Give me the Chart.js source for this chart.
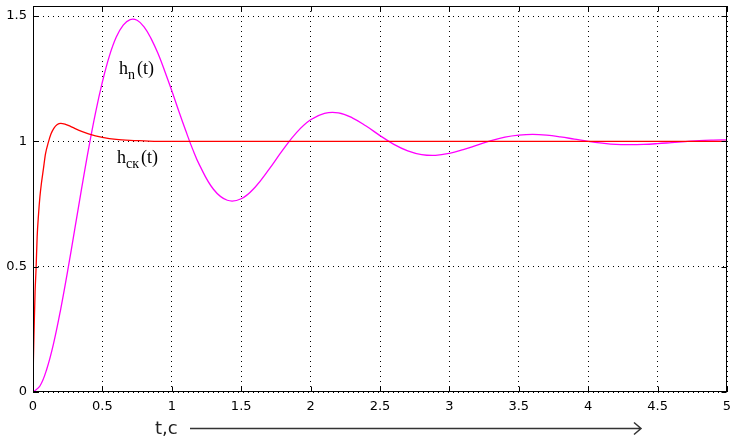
<!DOCTYPE html>
<html lang="ru">
<head>
<meta charset="UTF-8">
<title>h(t)</title>
<style>
  body {
    margin: 0;
    padding: 0;
    background: #fff;
  }
  .wrap {
    width: 739px;
    height: 443px;
  }
</style>
<script src="https://cdn.jsdelivr.net/npm/chart.js"></script>
</head>
<body>

<div class="wrap">
  <canvas id="chart-h" width="739" height="443"></canvas>
</div>

<script>
// step response of the plant, h_n(t)
const tPlant = [0, 0.05, 0.1, 0.15, 0.2, 0.25, 0.3, 0.35, 0.4, 0.45, 0.5, 0.55, 0.6, 0.65, 0.7, 0.75,
  0.8, 0.85, 0.9, 0.95, 1.0, 1.05, 1.1, 1.15, 1.2, 1.3, 1.4, 1.5, 1.6, 1.7, 1.8, 1.9, 2.0, 2.1, 2.2,
  2.3, 2.4, 2.5, 2.6, 2.7, 2.8, 2.9, 3.0, 3.1, 3.2, 3.3, 3.4, 3.5, 3.6, 3.7, 3.8, 3.9, 4.0, 4.1, 4.2,
  4.3, 4.4, 4.5, 4.6, 4.7, 4.8, 4.9, 5.0];
const hPlant = [0, 0.024, 0.093, 0.198, 0.332, 0.484, 0.647, 0.811, 0.969, 1.113, 1.237, 1.340, 1.416,
  1.464, 1.486, 1.483, 1.457, 1.411, 1.351, 1.279, 1.202, 1.121, 1.043, 0.969, 0.905, 0.809, 0.765,
  0.771, 0.817, 0.888, 0.966, 1.036, 1.086, 1.112, 1.114, 1.094, 1.061, 1.023, 0.988, 0.962, 0.947,
  0.944, 0.952, 0.967, 0.985, 1.003, 1.017, 1.025, 1.028, 1.025, 1.018, 1.009, 1.000, 0.993, 0.988,
  0.987, 0.988, 0.991, 0.995, 0.999, 1.003, 1.005, 1.006];

// corrected system, h_ck(t)
const tCorr = [0, 0.003, 0.008, 0.015, 0.022, 0.03, 0.04, 0.05, 0.06, 0.075, 0.09, 0.11, 0.13, 0.15,
  0.175, 0.2, 0.23, 0.27, 0.3, 0.35, 0.4, 0.45, 0.5, 0.6, 0.7, 0.8, 0.9, 1.0, 5.0];
const hCorr = [0, 0.13, 0.25, 0.40, 0.49, 0.62, 0.71, 0.78, 0.83, 0.89, 0.95, 0.995, 1.03, 1.052,
  1.067, 1.072, 1.069, 1.06, 1.052, 1.04, 1.03, 1.022, 1.016, 1.008, 1.004, 1.002, 1.0, 1.0, 1.0];

const xTicks = [0, 0.5, 1, 1.5, 2, 2.5, 3, 3.5, 4, 4.5, 5];
const yTicks = [0, 0.5, 1, 1.5];

const toPoints = (xs, ys) => xs.map((x, i) => ({x: x, y: ys[i]}));

// frame, inward ticks, curve labels and the t,c arrow
const decor = {
  id: 'decor',
  afterDraw(chart) {
    const ctx = chart.ctx;
    const a = chart.chartArea;
    const xs = chart.scales.x, ys = chart.scales.y;
    const L = Math.round(a.left) + 0.5, R = Math.round(a.right) - 0.5;
    const T = Math.round(a.top) + 0.5, B = Math.round(a.bottom) - 0.5;
    ctx.save();
    ctx.strokeStyle = '#000';
    ctx.lineWidth = 1;
    ctx.strokeRect(L, T, R - L, B - T);

    ctx.beginPath();
    xTicks.forEach(v => {
      const px = Math.round(xs.getPixelForValue(v)) + 0.5;
      ctx.moveTo(px, B); ctx.lineTo(px, B - 5);
      ctx.moveTo(px, T); ctx.lineTo(px, T + 5);
    });
    yTicks.forEach(v => {
      const py = Math.round(ys.getPixelForValue(v)) + 0.5;
      ctx.moveTo(L, py); ctx.lineTo(L + 5, py);
      ctx.moveTo(R, py); ctx.lineTo(R - 5, py);
    });
    ctx.stroke();

    // curve labels
    const label = (t, v, sub) => {
      let x = xs.getPixelForValue(t);
      const y = ys.getPixelForValue(v);
      ctx.fillStyle = '#000';
      ctx.textBaseline = 'alphabetic';
      ctx.textAlign = 'left';
      ctx.font = '18px "Liberation Serif", serif';
      ctx.fillText('h', x, y);
      x += ctx.measureText('h').width;
      ctx.font = '14px "Liberation Serif", serif';
      ctx.fillText(sub, x, y + 5);
      x += ctx.measureText(sub).width + 2;
      ctx.font = '18px "Liberation Serif", serif';
      ctx.fillText('(t)', x, y);
    };
    label(0.62, 1.269, 'n');
    label(0.605, 0.914, 'ск');

    // axis name with a long arrow
    ctx.fillStyle = '#222';
    ctx.font = '18px "DejaVu Sans", sans-serif';
    ctx.textBaseline = 'alphabetic';
    ctx.fillText('t,c', 155, 434);
    ctx.strokeStyle = '#333';
    ctx.lineWidth = 1.5;
    ctx.beginPath();
    ctx.moveTo(190, 428.5);
    ctx.lineTo(641, 428.5);
    ctx.moveTo(634, 422.5);
    ctx.lineTo(641, 428.5);
    ctx.lineTo(634, 434.5);
    ctx.stroke();
    ctx.restore();
  }
};

const config = {
  type: 'line',
  data: {
    datasets: [{
      label: 'h_ck(t)',
      data: toPoints(tCorr, hCorr),
      borderColor: '#ff0000',
      borderWidth: 1.3,
      pointRadius: 0,
      cubicInterpolationMode: 'monotone',
      fill: false
    }, {
      label: 'h_n(t)',
      data: toPoints(tPlant, hPlant),
      borderColor: '#ff00ff',
      borderWidth: 1.3,
      pointRadius: 0,
      tension: 0.4,
      fill: false
    }]
  },
  options: {
    responsive: false,
    animation: false,
    events: [],
    layout: {
      padding: {left: 0, right: 12, top: 6, bottom: 0}
    },
    scales: {
      x: {
        type: 'linear',
        min: 0,
        max: 5,
        afterBuildTicks: s => { s.ticks = xTicks.map(v => ({value: v})); },
        afterFit: s => { s.height = 51; s.paddingLeft = 0; s.paddingRight = 0; },
        grid: {color: '#000', lineWidth: 1, drawTicks: false},
        border: {display: false, dash: [1, 4]},
        ticks: {
          color: '#000',
          padding: 7,
          maxRotation: 0,
          font: {family: '"DejaVu Sans", sans-serif', size: 13},
          callback: v => String(v)
        }
      },
      y: {
        type: 'linear',
        min: 0,
        max: 1.54,
        afterBuildTicks: s => { s.ticks = yTicks.map(v => ({value: v})); },
        afterFit: s => { s.width = 33; s.paddingTop = 0; s.paddingBottom = 0; },
        grid: {color: '#000', lineWidth: 1, drawTicks: false},
        border: {display: false, dash: [1, 4]},
        ticks: {
          color: '#000',
          padding: 6,
          font: {family: '"DejaVu Sans", sans-serif', size: 13},
          callback: v => String(v)
        }
      }
    },
    plugins: {
      legend: {display: false},
      tooltip: {enabled: false}
    }
  },
  plugins: [decor]
};

window.onload = function() {
  const ctx = document.getElementById('chart-h').getContext('2d');
  new Chart(ctx, config);
};
</script>
</body>
</html>
